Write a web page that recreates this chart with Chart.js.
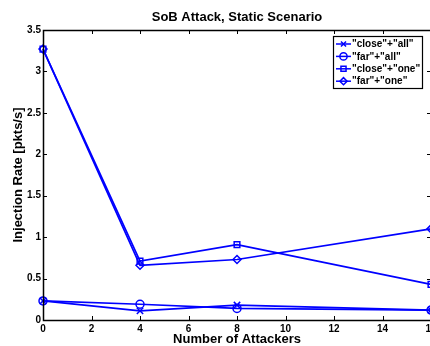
<!DOCTYPE html>
<html>
<head>
<meta charset="utf-8">
<script src="https://cdn.jsdelivr.net/npm/chart.js@4.4.1/dist/chart.umd.min.js"></script>
<style>
  html, body { margin: 0; padding: 0; background: #fff; overflow: hidden; }
  #wrap { width: 430px; height: 346px; overflow: hidden; }
  canvas { display: block; }
</style>
</head>
<body>
<div id="wrap"><canvas id="c" width="440" height="346"></canvas></div>
<script>
const attackers = [0, 4, 8, 16];
const closeAll = [0.23, 0.11, 0.18, 0.12];
const farAll   = [0.23, 0.19, 0.14, 0.12];
const closeOne = [3.27, 0.71, 0.91, 0.43];
const farOne   = [3.27, 0.66, 0.73, 1.10];
const seriesLabels = ['"close"+"all"', '"far"+"all"', '"close"+"one"', '"far"+"one"'];
const seriesMarkers = ['crossRot', 'circle', 'rect', 'rectRot'];
const xTicks = [0, 2, 4, 6, 8, 10, 12, 14, 16];
const yTicks = [0, 0.5, 1, 1.5, 2, 2.5, 3, 3.5];
const chartTitle = 'SoB Attack, Static Scenario';

const BLUE = '#0000ff';
const FONT = '"Liberation Sans", Arial, Helvetica, sans-serif';

function mk(i, vals) {
  return {
    label: seriesLabels[i],
    data: attackers.map((x, k) => ({ x: x, y: vals[k] })),
    borderColor: BLUE,
    backgroundColor: 'rgba(0,0,0,0)',
    pointBackgroundColor: 'rgba(0,0,0,0)',
    pointBorderColor: BLUE,
    pointStyle: seriesMarkers[i],
    pointRadius: i === 0 ? 4.5 : 4,
    pointBorderWidth: 1.5,
    borderWidth: 1.7,
    tension: 0,
    clip: false
  };
}

const frame = {
  id: 'frame',
  afterDraw(chart) {
    const { ctx, chartArea: a, scales: { x, y } } = chart;
    ctx.save();
    // title centred over the plot area
    ctx.fillStyle = '#000';
    ctx.font = 'bold 13px ' + FONT;
    ctx.textAlign = 'center';
    ctx.textBaseline = 'middle';
    ctx.fillText(chartTitle, (a.left + a.right) / 2, 17);

    ctx.strokeStyle = '#000';
    ctx.lineWidth = 1;
    ctx.beginPath();
    x.ticks.forEach(t => {
      const px = Math.round(x.getPixelForValue(t.value)) + 0.5;
      ctx.moveTo(px, a.bottom); ctx.lineTo(px, a.bottom - 4);
      ctx.moveTo(px, a.top); ctx.lineTo(px, a.top + 4);
    });
    y.ticks.forEach(t => {
      const py = Math.round(y.getPixelForValue(t.value)) + 0.5;
      ctx.moveTo(a.left, py); ctx.lineTo(a.left + 4, py);
      ctx.moveTo(a.right, py); ctx.lineTo(a.right - 4, py);
    });
    ctx.stroke();
    ctx.lineWidth = 1.5;
    ctx.strokeRect(Math.round(a.left) + 0.5, Math.round(a.top) + 0.5, Math.round(a.width), Math.round(a.height));

    // legend box inside plot area (top-right)
    const lx = 333, ly = 36, lw = 89, lh = 52;
    ctx.fillStyle = '#fff';
    ctx.fillRect(lx, ly, lw, lh);
    ctx.lineWidth = 1.2;
    ctx.strokeStyle = '#000';
    ctx.strokeRect(lx + 0.5, ly + 0.5, lw, lh);
    ctx.font = 'bold 10px ' + FONT;
    ctx.textBaseline = 'middle';
    ctx.textAlign = 'left';
    chart.data.datasets.forEach((ds, i) => {
      const cy = ly + 8 + i * 12.4;
      ctx.strokeStyle = BLUE;
      ctx.lineWidth = 1.5;
      ctx.beginPath();
      ctx.moveTo(lx + 3, cy); ctx.lineTo(lx + 18, cy);
      ctx.stroke();
      ctx.fillStyle = 'rgba(0,0,0,0)';
      Chart.helpers.drawPoint(ctx, {
        pointStyle: ds.pointStyle, radius: 3.6, rotation: 0, borderWidth: 1.5
      }, lx + 10.5, cy);
      ctx.fillStyle = '#000';
      ctx.fillText(ds.label, lx + 19, cy + 0.5);
    });
    ctx.restore();
  }
};

new Chart(document.getElementById('c'), {
  type: 'line',
  data: {
    datasets: [mk(0, closeAll), mk(1, farAll), mk(2, closeOne), mk(3, farOne)]
  },
  options: {
    responsive: false,
    animation: false,
    devicePixelRatio: 1,
    layout: { padding: { left: 0, right: 9, top: 30, bottom: 0 } },
    plugins: {
      legend: { display: false },
      tooltip: { enabled: false },
      title: { display: false }
    },
    scales: {
      x: {
        type: 'linear',
        min: 0, max: 16,
        afterBuildTicks: s => { s.ticks = xTicks.map(v => ({ value: v })); },
        afterFit: s => { s.height = 26; },
        grid: { display: false, drawTicks: false },
        border: { display: false },
        ticks: {
          color: '#000', padding: 3, maxRotation: 0, autoSkip: false,
          callback: v => String(v),
          font: { family: FONT, size: 10, weight: 'bold' }
        },
        title: {
          display: true, text: 'Number of Attackers', color: '#000',
          font: { family: FONT, size: 13, weight: 'bold', lineHeight: 1.2 },
          padding: { top: 0, bottom: -1.5 }
        }
      },
      y: {
        type: 'linear',
        min: 0, max: 3.5,
        afterBuildTicks: s => { s.ticks = yTicks.map(v => ({ value: v })); },
        afterFit: s => { s.width = 43; },
        grid: { display: false, drawTicks: false },
        border: { display: false },
        ticks: {
          color: '#000', padding: 2, autoSkip: false,
          callback: v => String(v),
          font: { family: FONT, size: 10, weight: 'bold' }
        },
        title: {
          display: true, text: 'Injection Rate [pkts/s]', color: '#000',
          font: { family: FONT, size: 13, weight: 'bold', lineHeight: 1.2 },
          padding: { top: 10.5, bottom: 0 }
        }
      }
    }
  },
  plugins: [frame]
});
</script>
</body>
</html>
